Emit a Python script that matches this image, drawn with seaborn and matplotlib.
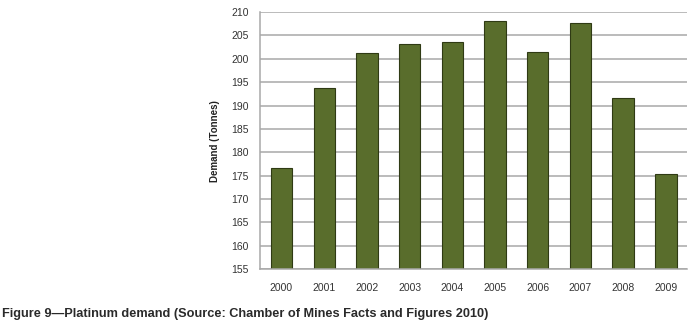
import matplotlib
matplotlib.use("Agg")
import matplotlib.pyplot as plt
import seaborn as sns
import pandas as pd

years = ["2000", "2001", "2002", "2003", "2004", "2005", "2006", "2007", "2008", "2009"]
demand = [176.6, 193.8, 201.3, 203.1, 203.6, 208.0, 201.4, 207.6, 191.7, 175.4]
yticks = list(range(155, 211, 5))

sns.set_theme(style="white")
plt.rcParams['font.family'] = ['Liberation Sans', 'DejaVu Sans']

df = pd.DataFrame({"year": years, "demand": demand})

fig = plt.figure(figsize=(6.9, 3.36), dpi=100)
ax = fig.add_axes([0.377, 0.199, 0.619, 0.765])

ax.set_axisbelow(True)
ax.yaxis.grid(True, color="#a8a8a8", linewidth=1.1)
sns.barplot(data=df, x="year", y="demand", color="#596d2c", width=0.5,
            saturation=1, edgecolor="#2f3a14", linewidth=0.8, ax=ax)

ax.set_ylim(155, 210)
ax.set_yticks(yticks)
ax.set_xlim(-0.5, len(years) - 0.5)
ax.set_xlabel("")
ax.set_ylabel("Demand (Tonnes)", fontsize=7, fontweight="bold", color="#222222", labelpad=8)
ax.tick_params(axis="y", labelsize=7.5, colors="#333333", pad=8, length=0)
ax.tick_params(axis="x", labelsize=7.5, colors="#333333", pad=10, length=0)

for side in ["top", "right"]:
    ax.spines[side].set_visible(False)
for side in ["left", "bottom"]:
    ax.spines[side].set_color("#a8a8a8")
    ax.spines[side].set_linewidth(1.1)

fig.text(0.003, 0.065, "Figure 9\u2014Platinum demand (Source: Chamber of Mines Facts and Figures 2010)",
         fontsize=9.2, fontweight="bold", color="#2a2a2a", ha="left", va="center")

fig.savefig("out.png", dpi=100)
